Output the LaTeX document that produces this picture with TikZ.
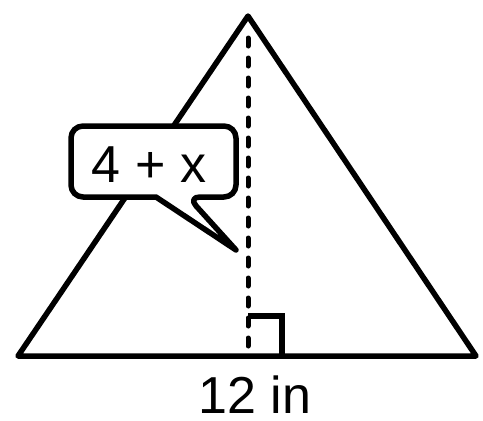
\documentclass[tikz,border=0pt]{standalone}
\usepackage{fontspec}
\setmainfont{Liberation Sans}
\begin{document}
\begin{tikzpicture}[x=1pt,y=-1pt,
  edge/.style={line width=5.5pt,line join=round},
  alt/.style={line width=5pt,line cap=round,dash pattern=on 8pt off 12pt},
  lbl/.style={font=\fontsize{52}{60}\selectfont,inner sep=0pt,anchor=base}]
\useasboundingbox (0,0) rectangle (483,421);
\coordinate (A) at (248,16);
\coordinate (B) at (18,356);
\coordinate (C) at (476,356);
\coordinate (F) at (248,356);
\draw[edge] (A) -- (B) -- (C) -- cycle;
\draw[alt] ([yshift=-22pt]A) -- ([yshift=8pt]F);
\draw[edge,line join=miter] (248,316) -- (282,316) -- (282,356);
% callout
\coordinate (tip) at (236,250);
\draw[edge,fill=white,rounded corners=12pt]
  (156,197) -- (71,197) -- (71,126) -- (236,126) -- (236,197) -- (188,197)
  [sharp corners] -- (tip) -- cycle;
\node[lbl] (t) at (149,182) {4 + x};
\node[lbl] (b) at (255,413) {12 in};
\end{tikzpicture}
\end{document}
